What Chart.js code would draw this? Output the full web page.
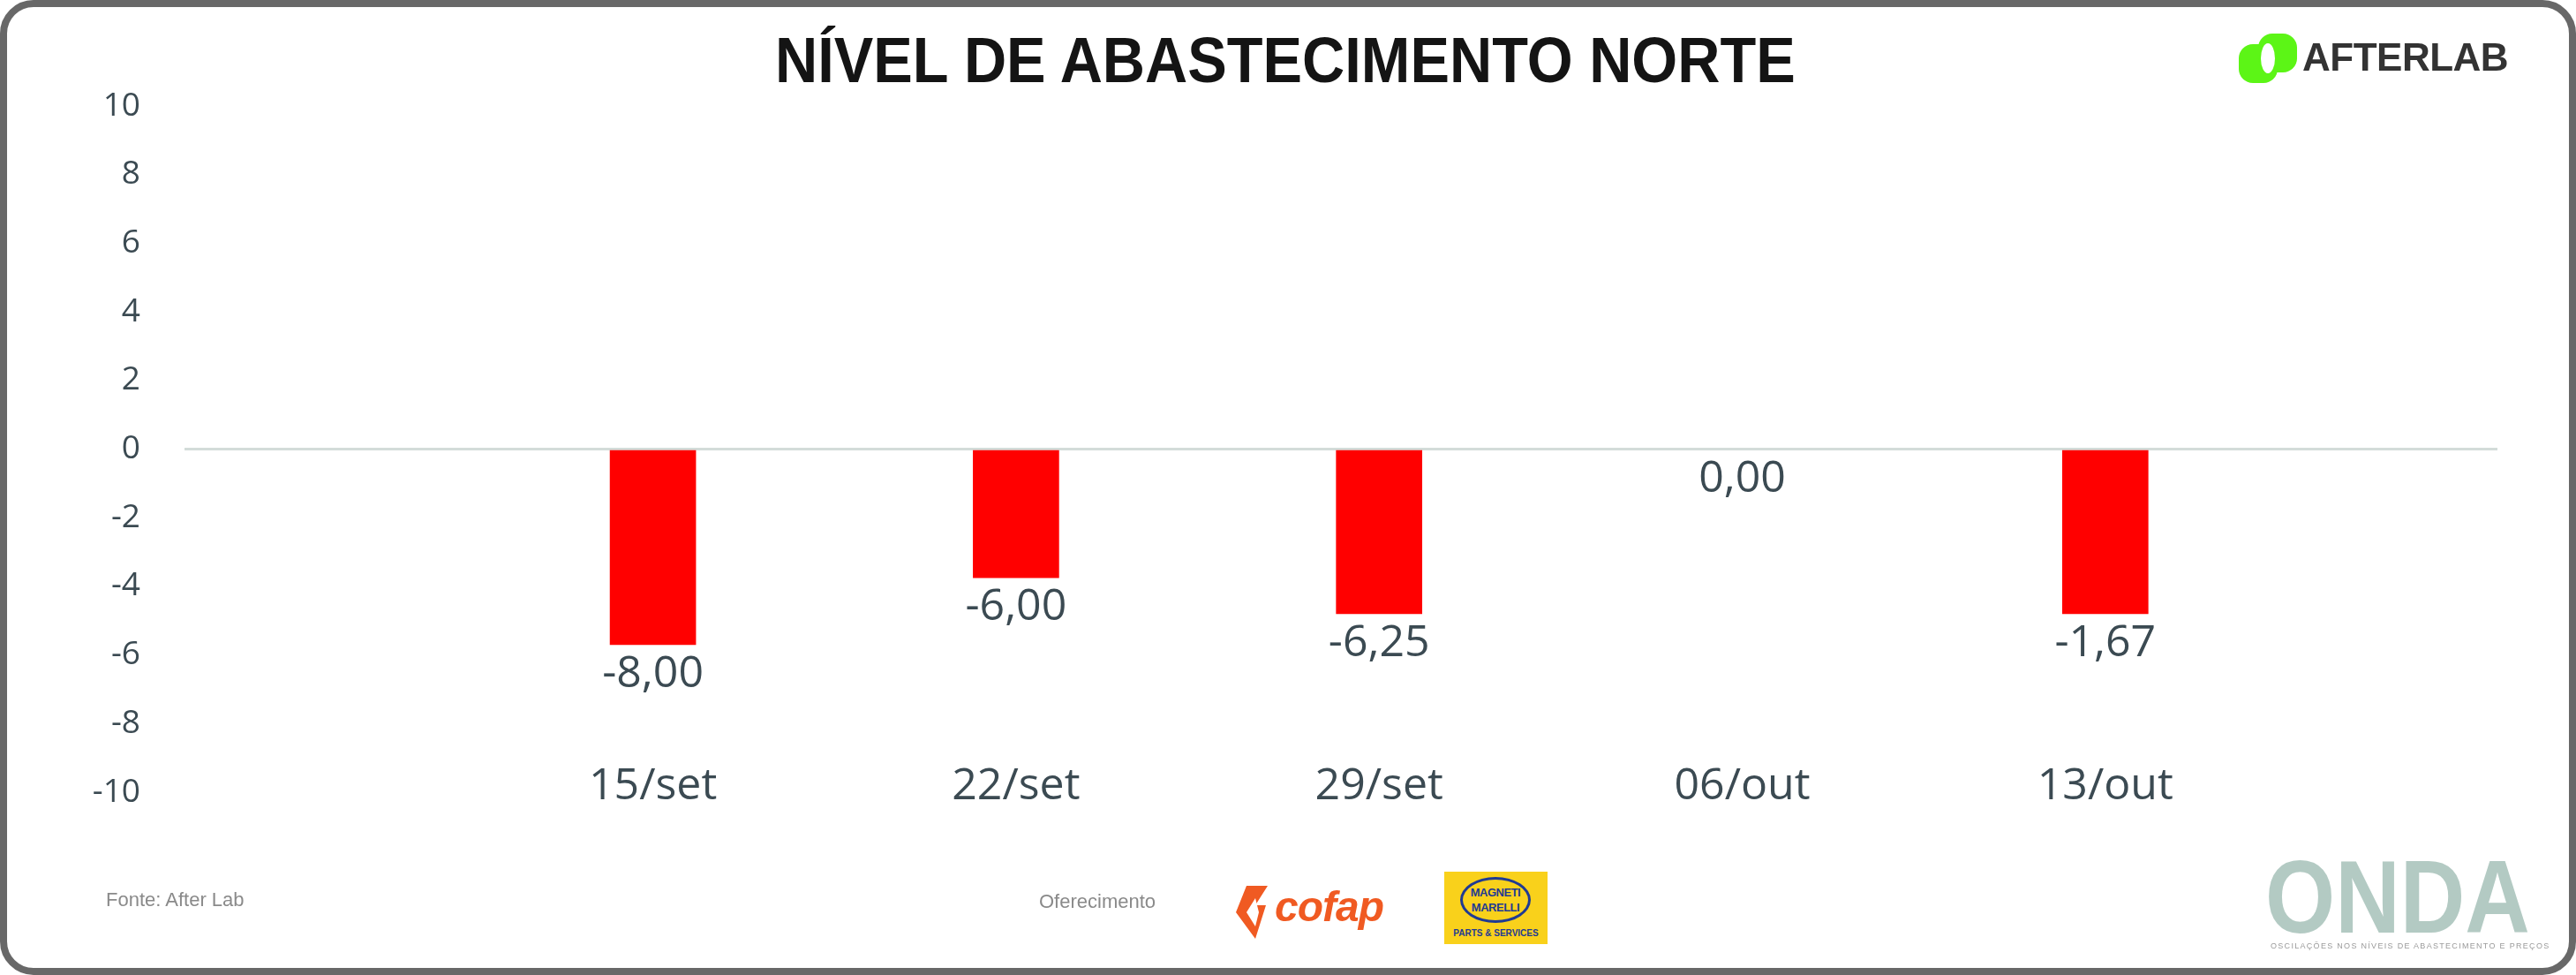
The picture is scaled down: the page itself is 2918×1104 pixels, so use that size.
<!DOCTYPE html>
<html lang="pt-BR">
<head>
<meta charset="utf-8">
<title>Nível de Abastecimento Norte</title>
<script src="https://cdn.jsdelivr.net/npm/chart.js@4.4.1/dist/chart.umd.min.js"></script>
<style>
    html, body { margin: 0; padding: 0; background: #fff; }
    body { width: 2918px; height: 1104px; position: relative; overflow: hidden; font-family: "Open Sans", sans-serif; }
    .frame { position: absolute; left: 0; top: 0; width: 2918px; height: 1104px; box-sizing: border-box;
             border: 8px solid #686868; border-radius: 38px; pointer-events: none; }
    .chart-box { position: absolute; left: 0; top: 0; width: 2918px; height: 1104px; }
    .title { position: absolute; left: 878px; top: 27px; white-space: nowrap; transform: scaleX(0.927); transform-origin: left top;
             font-family: "Liberation Sans", sans-serif; font-weight: bold; font-size: 72px; color: #141414; }
    .afterlab { position: absolute; left: 2536px; top: 38px; height: 56px; }
    .afterlab span { position: absolute; left: 72px; top: 2px; font-family: "Liberation Sans", sans-serif;
                     font-weight: bold; font-size: 44px; color: #333; letter-spacing: -0.5px; }
    .footer { position: absolute; font-family: "Liberation Sans", sans-serif; font-size: 22px; color: #8a8a8a; }
    .cofap { position: absolute; left: 1400px; top: 1003px; height: 48px; }
    .cofap span { position: absolute; left: 44px; top: -4px; font-family: "Liberation Sans", sans-serif;
                  font-weight: bold; font-style: italic; font-size: 48px; color: #f05a22; letter-spacing: -1px; }
    .marelli { position: absolute; left: 1636px; top: 987px; width: 117px; height: 82px; background: #f9d11b; }
    .marelli .oval { position: absolute; left: 18px; top: 6px; width: 80px; height: 52px; border: 3px solid #1f3a93;
                     border-radius: 50%; box-sizing: border-box; color: #1f3a93; text-align: center;
                     font-family: "Liberation Sans", sans-serif; font-weight: bold;
                     font-size: 13px; line-height: 17px; padding-top: 6px; letter-spacing: -0.5px; }
    .marelli .ps { position: absolute; left: 0; width: 117px; top: 64px; text-align: center; color: #1f3a93;
                   font-family: "Liberation Sans", sans-serif; font-weight: bold; font-size: 10px; }
    .onda { position: absolute; left: 2566px; top: 957px; white-space: nowrap; transform: scaleX(0.87); transform-origin: left top;
            font-family: "Liberation Sans", sans-serif; font-weight: bold; font-size: 117px; line-height: 117px; color: #b3cac3; }
    .onda-sub { position: absolute; left: 2572px; top: 1066px; font-family: "Liberation Sans", sans-serif; font-size: 9px;
                letter-spacing: 1.3px; color: #9a9a9a; white-space: nowrap; }
</style>
</head>
<body>
<div class="chart-box"><canvas id="supplyChart"></canvas></div>

<div class="title">NÍVEL DE ABASTECIMENTO NORTE</div>

<div class="afterlab">
    <svg width="66" height="56" viewBox="0 0 66 56">
        <rect x="0" y="12" width="44" height="44" rx="16" fill="#5cf516"/>
        <rect x="22" y="0" width="44" height="44" rx="16" fill="#5cf516"/>
        <ellipse cx="33" cy="28" rx="8" ry="17" fill="#fff"/>
    </svg>
    <span>AFTERLAB</span>
</div>

<div class="footer" style="left:120px; top:1006px;">Fonte: After Lab</div>
<div class="footer" style="left:1177px; top:1008px;">Oferecimento</div>

<div class="cofap">
    <svg width="44" height="60" viewBox="0 0 44 60">
        <polygon points="12,0 36,0 22,22 34,22 22,60 0,30" fill="#f05a22"/>
        <polygon points="12,30 22,14 26,30 22,46" fill="#fff"/>
    </svg>
    <span>cofap</span>
</div>

<div class="marelli">
    <div class="oval">MAGNETI<br>MARELLI</div>
    <div class="ps">PARTS &amp; SERVICES</div>
</div>

<div class="onda">ONDA</div>
<div class="onda-sub">OSCILAÇÕES NOS NÍVEIS DE ABASTECIMENTO E PREÇOS</div>

<div class="frame"></div>

<script>
    // Dados do gráfico
    const categorias = ['15/set', '22/set', '29/set', '06/out', '13/out'];
    const valoresBarras = [-5.7, -3.75, -4.8, 0, -4.8];
    const rotulosValores = ['-8,00', '-6,00', '-6,25', '0,00', '-1,67'];
    const ticksY = [-10, -8, -6, -4, -2, 0, 2, 4, 6, 8, 10];

    const corTexto = '#3b4a52';

    // Rótulos de valor abaixo das barras e datas alinhadas com o -10
    const rotulosPlugin = {
        id: 'rotulosValores',
        afterDatasetsDraw(chart) {
            const ctx = chart.ctx;
            const meta = chart.getDatasetMeta(0);
            const escalaX = chart.scales.x;
            const escalaY = chart.scales.y;
            ctx.save();
            ctx.font = '50px "Open Sans"';
            ctx.fillStyle = corTexto;
            ctx.textAlign = 'center';
            ctx.textBaseline = 'middle';
            meta.data.forEach((bar, i) => {
                ctx.fillText(rotulosValores[i], bar.x, bar.y + 34);
            });
            categorias.forEach((c, i) => {
                ctx.fillText(c, escalaX.getPixelForValue(i + 1), escalaY.getPixelForValue(-10) - 6);
            });
            ctx.restore();
        }
    };

    const pontos = categorias.map((c, i) => ({ x: i + 1, y: valoresBarras[i] }));

    new Chart(document.getElementById('supplyChart'), {
        type: 'bar',
        data: {
            datasets: [{
                data: pontos,
                // barra de valor zero não aparece
                backgroundColor: ctx => (ctx.raw && ctx.raw.y === 0) ? 'rgba(0,0,0,0)' : '#ff0000',
                borderWidth: 0,
                barThickness: 97
            }]
        },
        options: {
            responsive: true,
            maintainAspectRatio: false,
            animation: false,
            layout: { padding: { left: 79, right: 89, top: 120, bottom: 207 } },
            plugins: {
                legend: { display: false },
                tooltip: { enabled: false }
            },
            scales: {
                x: {
                    type: 'linear',
                    offset: false,
                    min: -0.29,
                    max: 6.08,
                    grid: { display: false },
                    border: { display: false },
                    ticks: { display: false },
                    afterFit: axis => { axis.height = 0; }
                },
                y: {
                    min: -10,
                    max: 10,
                    afterBuildTicks: axis => {
                        axis.ticks = ticksY.map(v => ({ value: v }));
                    },
                    afterFit: axis => { axis.width = 130; },
                    border: { display: false },
                    grid: {
                        drawTicks: false,
                        lineWidth: 3,
                        color: ctx => ctx.tick && ctx.tick.value === 0 ? '#d3dcd9' : 'rgba(0,0,0,0)'
                    },
                    ticks: {
                        padding: 50,
                        color: corTexto,
                        font: { family: 'Open Sans', size: 37 }
                    }
                }
            }
        },
        plugins: [rotulosPlugin]
    });
</script>
</body>
</html>
